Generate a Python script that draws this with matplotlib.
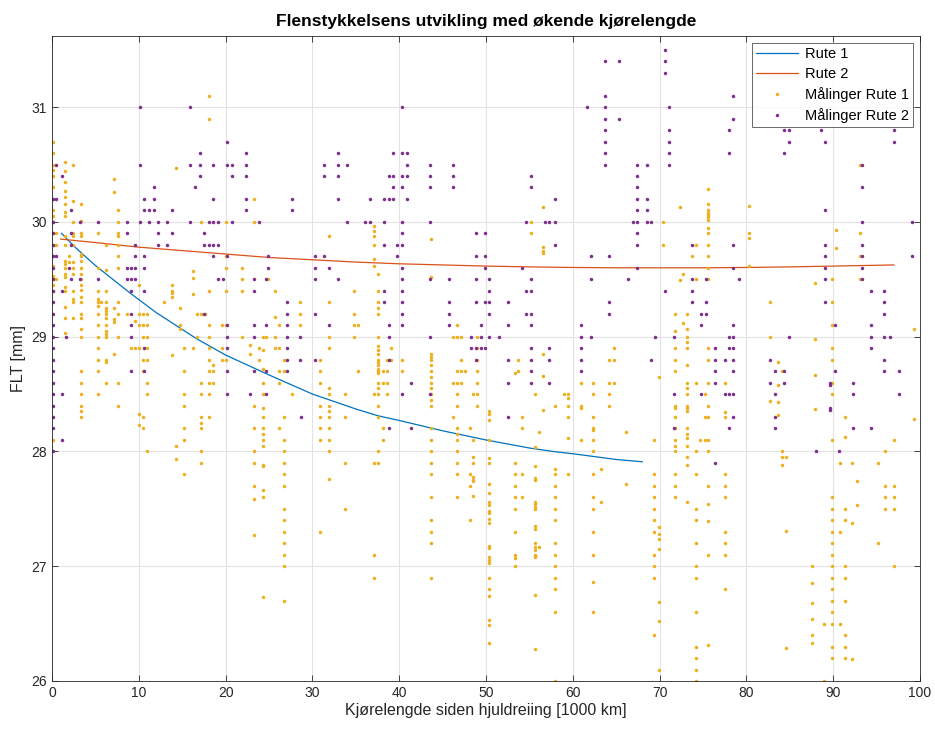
import numpy as np
import matplotlib
matplotlib.use("Agg")
import matplotlib.pyplot as plt

plt.rcParams['font.family'] = ['Liberation Sans', 'DejaVu Sans']

# tilpassede kurver
rute1_x = [1.1, 2.65, 5, 9, 12, 16.7, 20, 24.9, 30, 35, 37.6, 40, 45, 50, 55, 57.7, 60, 65, 68]
rute1_y = [29.90, 29.78, 29.62, 29.38, 29.21, 28.98, 28.84, 28.67, 28.50, 28.37, 28.31,
           28.27, 28.18, 28.10, 28.03, 28.00, 27.98, 27.93, 27.91]
rute2_x = [1, 5, 10, 15, 20, 25, 30, 35, 40, 45, 50, 55, 60, 65, 70, 75, 80, 85, 90, 97]
rute2_y = [29.85, 29.82, 29.78, 29.75, 29.72, 29.69, 29.67, 29.65, 29.635, 29.625, 29.615,
           29.608, 29.603, 29.60, 29.60, 29.60, 29.603, 29.608, 29.615, 29.625]

# målinger rute 1: (kjørelengde, [FLT-verdier])
maal_rute1 = [
    (0.1, [30.7, 30.6, 30.5, 30.45, 30.4, 30.3, 30.2, 30.1, 30.05, 30.0, 29.9, 29.8, 29.7, 29.62, 29.53, 29.45, 29.4, 28.1]),
    (0.5, [29.9, 29.8, 29.5]),
    (1.5, [30.52, 30.44, 30.35, 30.27, 30.22, 30.16, 30.09, 30.05, 29.88, 29.8, 29.66, 29.63, 29.6, 29.55, 29.52, 29.43, 29.4, 29.26, 29.16, 29.03]),
    (2.0, [29.7, 29.65]),
    (2.4, [30.5, 30.18, 30.0, 29.9, 29.88, 29.8, 29.65, 29.6, 29.55, 29.4, 29.33, 29.3, 29.16]),
    (3.4, [30.16, 30.01, 29.9, 29.88, 29.72, 29.7, 29.66, 29.6, 29.55, 29.5, 29.45, 29.41, 29.35, 29.3, 29.2, 29.16, 29.07, 29.0, 28.7, 28.6, 28.5, 28.4, 28.35, 28.3]),
    (5.3, [29.9, 29.6, 29.4, 29.33, 29.3, 29.27, 29.2, 29.1, 29.0, 28.9, 28.8, 28.7, 28.5]),
    (5.7, [29.3]),
    (6.2, [29.8, 29.58, 29.4, 29.3, 29.25, 29.22, 29.2, 29.16, 29.1, 29.05, 29.02, 29.0, 28.8, 28.78, 28.6]),
    (7.2, [30.37, 30.26, 29.25, 29.15, 29.13, 28.85]),
    (7.6, [30.1, 30.0, 29.9, 29.88, 29.8, 29.7, 29.6, 29.3, 29.2, 29.0, 28.6, 28.4]),
    (8.6, [29.2]),
    (9.1, [28.9]),
    (9.6, [29.14, 28.9]),
    (10.0, [29.45, 29.2, 29.1, 28.9, 28.33, 28.23]),
    (10.5, [29.2, 29.1, 29.0, 28.8, 28.7, 28.3, 28.2]),
    (11.0, [29.2, 29.1, 29.0, 28.9, 28.8, 28.6, 28.5, 28.0]),
    (12.9, [29.3]),
    (13.8, [29.45, 29.4, 29.38, 29.35, 28.84]),
    (14.3, [30.47, 28.05, 27.93]),
    (14.75, [29.25, 29.1, 29.07]),
    (15.25, [28.9, 28.7, 28.5, 28.4, 28.2, 28.1, 27.8]),
    (16.2, [29.57, 29.51, 29.37, 28.9]),
    (16.7, [29.2, 29.0]),
    (17.2, [30.0, 29.2, 28.6, 28.5, 28.3, 28.25, 28.2, 28.0, 27.9]),
    (17.6, [29.2]),
    (18.1, [31.1, 30.9, 29.4, 29.1, 29.0, 28.9, 28.8, 28.7, 28.6, 28.5, 28.3]),
    (18.6, [28.75, 28.7, 28.6]),
    (19.55, [29.1, 28.9, 28.8]),
    (20.0, [30.0, 29.7, 29.6, 29.4, 29.1, 28.8]),
    (21.9, [29.6, 29.5, 29.4, 29.0]),
    (22.8, [28.93, 28.85]),
    (23.3, [30.2, 30.0, 28.4, 28.2, 28.0, 27.9, 27.7, 27.59, 27.27]),
    (23.8, [28.9, 28.8]),
    (24.3, [29.0, 28.88, 28.72, 28.6, 28.5, 28.38, 28.3, 28.2, 28.15, 28.1, 28.05, 27.88, 27.87, 27.66, 27.6, 26.73]),
    (24.7, [29.0]),
    (24.9, [29.5]),
    (25.7, [29.4, 29.17, 29.0, 28.9]),
    (26.2, [29.1, 28.9, 28.7, 28.6, 28.2]),
    (26.7, [28.8, 28.7, 28.3, 28.1, 28.0, 27.9, 27.8, 27.7, 27.5, 27.4, 27.3, 27.2, 27.1, 27.0, 26.7]),
    (27.6, [28.5]),
    (28.6, [29.3, 29.2, 29.1]),
    (30.9, [28.8, 28.7, 28.6, 28.4, 28.3, 28.2, 28.1, 27.3]),
    (31.9, [29.88, 29.3, 29.0, 28.9, 28.55, 28.5, 28.4, 28.35, 28.3, 28.2, 28.1, 28.0, 27.76]),
    (33.8, [28.5, 28.3, 27.9, 27.5]),
    (34.8, [29.4, 29.2, 29.1, 29.0]),
    (35.2, [29.1, 28.7]),
    (37.1, [29.96, 29.92, 29.88, 29.8, 29.68, 29.62, 28.5, 27.9, 27.1, 26.9]),
    (37.6, [29.55, 29.4, 29.3, 29.25, 29.2, 29.0, 28.92, 28.88, 28.85, 28.8, 28.78, 28.75, 28.72, 28.7, 28.68, 28.6, 28.55, 28.5, 28.4, 28.3, 28.0, 27.9]),
    (38.1, [28.7, 28.6, 28.2, 28.1]),
    (38.6, [28.8, 28.7, 28.6, 28.5]),
    (39.0, [28.9, 28.8]),
    (40.35, [28.8, 28.7]),
    (43.7, [29.85, 29.52, 28.85, 28.82, 28.8, 28.75, 28.7, 28.65, 28.6, 28.55, 28.5, 28.45, 28.4, 28.2, 28.1, 28.0, 27.9, 27.8, 27.6, 27.4, 27.3, 27.2, 26.9]),
    (46.2, [29.0, 28.6, 28.3]),
    (46.65, [29.1, 29.0, 28.7, 28.6, 28.5, 28.4, 28.2, 28.15, 28.1, 28.0, 27.9, 27.8, 27.6]),
    (47.1, [29.0, 28.8, 28.7, 28.6]),
    (47.6, [28.7]),
    (48.1, [28.2, 27.8, 27.7, 27.4]),
    (48.5, [28.5, 28.1, 27.95, 27.9, 27.78, 27.75, 27.74, 27.61]),
    (49.0, [29.0, 28.9, 28.8, 28.7, 28.6, 28.5, 28.4]),
    (50.4, [28.35, 28.33, 28.27, 28.1, 27.94, 27.9, 27.72, 27.64, 27.56, 27.53, 27.48, 27.46, 27.41, 27.38, 27.18, 27.16, 27.08, 27.05, 27.03, 26.9, 26.8, 26.74, 26.53, 26.49, 26.33]),
    (53.3, [28.68, 27.9, 27.8, 27.7, 27.6, 27.5, 27.3, 27.1, 27.07, 27.0]),
    (53.7, [28.8, 28.7]),
    (54.2, [28.3, 28.2, 27.8, 27.6]),
    (55.2, [30.0, 29.9]),
    (55.65, [28.5, 28.04, 27.87, 27.77, 27.75, 27.56, 27.54, 27.52, 27.5, 27.35, 27.32, 27.2, 27.17, 27.14, 27.1, 27.09, 27.08, 26.75, 26.28]),
    (56.1, [28.17, 27.17]),
    (56.6, [30.13, 29.78, 29.75, 29.73, 28.85, 28.66, 28.36]),
    (58.0, [28.4, 27.85, 27.8, 27.7, 27.6, 27.5, 27.4, 27.2, 27.1, 27.0, 26.9, 26.8, 26.6, 26.0]),
    (58.95, [28.5]),
    (59.45, [28.5, 28.47, 28.4, 28.3, 28.12, 27.8]),
    (60.9, [28.6, 28.4, 28.38, 28.1]),
    (62.3, [28.6, 28.5, 28.3, 28.2, 28.19, 28.1, 28.0, 27.8, 27.6, 27.5, 27.3, 27.1, 26.86, 26.6]),
    (63.25, [27.85, 27.56]),
    (64.2, [28.8, 28.6, 28.5, 28.4]),
    (64.7, [28.9, 28.8, 28.6]),
    (66.1, [28.17, 27.72]),
    (69.4, [28.1, 27.8, 27.7, 27.6, 27.5, 27.4, 27.3, 27.1, 27.0, 26.9, 26.4]),
    (69.9, [28.65, 27.34, 27.28, 27.24, 27.15, 26.69, 26.52, 26.1]),
    (70.4, [30.0, 29.8]),
    (71.8, [29.2, 29.05, 28.9, 28.8, 28.7, 28.4, 28.38, 28.3, 28.2, 28.1, 28.05, 28.0, 27.8, 27.7, 27.6]),
    (72.3, [30.13, 29.49]),
    (72.7, [29.55, 29.12]),
    (73.2, [29.2, 29.07, 29.0, 28.95, 28.9, 28.75, 28.6, 28.55, 28.5, 28.4, 28.38, 28.35, 28.2, 28.15, 28.12, 28.05, 27.95, 27.88, 27.56]),
    (73.7, [29.7]),
    (74.2, [29.8, 29.5, 28.6, 28.0, 27.8, 27.5, 27.4, 27.2, 27.0, 26.9, 26.6, 26.3, 26.2, 26.1, 26.0]),
    (74.7, [28.1]),
    (75.2, [28.5, 28.3, 28.1]),
    (75.6, [30.29, 30.16, 30.1, 30.08, 30.06, 30.04, 30.02, 29.95, 29.9, 29.8, 29.7, 29.6, 29.5, 28.9, 28.8, 28.6, 28.4, 28.3, 28.1, 28.0, 27.7, 27.54, 27.39, 27.1, 26.31]),
    (77.5, [28.6, 28.34, 28.3, 27.8, 27.7, 27.6, 27.3, 27.2, 27.1, 26.8]),
    (80.3, [30.14, 29.9, 29.86, 29.62]),
    (82.7, [29.3, 29.0, 28.44]),
    (83.65, [28.78, 28.58, 28.43, 28.32]),
    (84.1, [28.7, 28.0, 27.95, 27.88]),
    (84.6, [27.95, 27.31, 26.29]),
    (87.5, [27.0, 26.85, 26.68, 26.54, 26.4, 26.33]),
    (87.9, [29.47, 28.98, 28.67, 28.37]),
    (88.9, [26.5, 26.0]),
    (89.85, [29.5, 29.3, 29.1, 28.9, 28.8, 28.6, 28.5, 28.1, 27.6, 27.5, 27.4, 27.3, 27.2, 27.1, 27.0, 26.9, 26.8, 26.7, 26.6, 26.5, 26.3, 26.2]),
    (90.35, [29.93, 29.77]),
    (90.8, [27.9, 27.3, 26.5]),
    (91.3, [28.3, 28.13, 27.5, 27.4, 27.0, 26.9, 26.7, 26.4, 26.3, 26.2]),
    (92.2, [27.9, 27.38, 26.19]),
    (92.7, [27.74, 27.53]),
    (93.1, [30.5, 29.9, 29.7, 29.5]),
    (95.1, [27.9, 27.2]),
    (96.0, [28.0, 27.7, 27.6, 27.5]),
    (96.95, [28.1, 27.7, 27.6, 27.5, 27.0]),
    (99.3, [29.07, 28.28]),
]

# målinger rute 2
maal_rute2 = [
    (0.1, [30.2, 30.0, 29.9, 29.8, 29.7, 29.6, 29.5, 29.4, 29.3, 29.2, 29.1, 29.0, 28.9, 28.8, 28.7, 28.6, 28.5, 28.4, 28.3, 28.2, 28.0]),
    (0.5, [30.5, 30.2, 29.7]),
    (1.1, [30.4, 29.4, 28.5, 28.1]),
    (1.65, [29.0]),
    (2.0, [29.6]),
    (2.2, [30.1, 29.9, 29.8, 29.5]),
    (3.2, [30.0, 29.5]),
    (5.3, [30.0, 29.5]),
    (8.6, [30.0, 29.9, 29.6, 29.5]),
    (9.1, [29.6, 29.5, 29.4, 29.2, 29.1, 29.0, 28.7]),
    (9.6, [29.8, 29.7, 29.6, 29.5]),
    (10.1, [31.0, 30.5, 30.0]),
    (10.6, [30.2, 30.1, 29.7, 29.6, 29.4, 28.9, 28.7]),
    (11.2, [30.1, 30.0]),
    (11.7, [30.3, 30.2, 30.1]),
    (12.25, [30.0, 29.9, 29.8]),
    (13.3, [30.0, 29.8]),
    (13.8, [30.1, 29.9]),
    (15.9, [31.0, 30.5, 30.0]),
    (16.5, [30.3]),
    (17.0, [30.6, 30.5, 30.4]),
    (17.5, [29.9, 29.8, 29.2]),
    (18.1, [30.0, 29.8]),
    (18.6, [30.5, 30.2, 30.0, 29.8, 29.7]),
    (19.1, [30.0, 29.8, 29.5]),
    (19.7, [29.5]),
    (20.2, [30.7, 30.5, 29.7, 29.1, 29.0, 28.9, 28.7, 28.5]),
    (20.7, [30.5, 30.4, 30.0]),
    (22.3, [30.6, 30.5, 30.4, 30.2, 30.1]),
    (22.8, [28.5]),
    (23.3, [29.5, 29.4, 29.1, 29.0, 28.7]),
    (23.9, [30.0]),
    (24.7, [29.5, 29.1, 28.7, 28.5]),
    (24.9, [29.7, 29.6]),
    (27.1, [29.3, 29.2, 29.1, 29.0, 28.9, 28.8, 28.7]),
    (27.6, [30.2, 30.1]),
    (28.6, [29.0, 28.8]),
    (28.7, [28.3]),
    (30.3, [29.7, 29.6, 29.5, 29.2, 28.8]),
    (31.35, [30.5, 30.4, 29.7]),
    (31.9, [29.6, 29.1]),
    (32.9, [30.6, 30.5, 30.4, 30.2, 29.5]),
    (34.0, [30.5, 30.0]),
    (36.1, [30.0]),
    (36.65, [30.2, 30.0]),
    (38.2, [30.2, 30.0, 29.8, 29.4, 29.3]),
    (38.8, [30.4, 30.2, 29.1, 29.0, 28.8, 28.2]),
    (39.3, [30.6, 30.4, 30.3, 30.2]),
    (39.8, [29.8, 29.7]),
    (40.35, [31.0, 30.6, 30.4, 30.3, 30.0, 29.9, 29.8, 29.6, 29.5, 29.4, 29.3, 29.2, 29.1, 28.5]),
    (40.9, [30.6, 30.5, 30.4, 30.2]),
    (41.4, [28.6, 28.2]),
    (43.5, [30.5, 30.4, 30.3, 30.0, 29.5, 29.0, 28.5]),
    (45.7, [29.5, 29.3, 29.2, 29.1]),
    (46.2, [30.5, 30.4, 30.3]),
    (48.3, [29.0, 28.9]),
    (48.8, [29.9, 29.7, 29.5, 29.3, 28.9, 28.8]),
    (49.4, [29.1, 29.0, 28.9]),
    (49.9, [29.9, 29.7, 29.6, 29.3, 28.9]),
    (50.4, [29.5, 29.4, 29.3, 29.2, 29.0]),
    (51.5, [29.0]),
    (52.5, [29.3, 29.1, 28.8, 28.6, 28.3]),
    (54.1, [29.6]),
    (54.6, [30.0, 29.4, 29.2]),
    (55.2, [30.4, 30.3, 29.5, 29.4, 29.2, 29.1, 28.9, 28.8, 28.7, 28.6]),
    (56.8, [30.0]),
    (57.3, [30.0, 28.9, 28.8, 28.6]),
    (57.9, [30.2, 30.0, 29.8]),
    (61.0, [29.1, 29.0, 28.9, 28.8, 28.7]),
    (61.6, [31.0]),
    (62.1, [29.7, 29.5, 29.0]),
    (63.7, [31.4, 31.1, 31.0, 30.9, 30.8, 30.7, 30.6, 30.5]),
    (64.2, [29.7, 29.3, 29.2]),
    (65.3, [31.4, 30.9]),
    (66.3, [29.5]),
    (66.9, [30.0]),
    (67.4, [30.5, 30.4, 30.3, 30.2, 30.1, 30.0, 29.9, 29.8, 29.6]),
    (68.5, [30.5, 30.2, 30.1, 30.0]),
    (69.0, [30.0, 28.8]),
    (69.5, [29.0]),
    (70.6, [31.5, 31.4, 31.3, 29.4]),
    (71.1, [31.0, 30.8, 30.7, 30.6, 30.5]),
    (71.6, [29.0, 28.5, 28.2]),
    (73.7, [29.8, 29.5, 29.4, 29.3]),
    (74.8, [29.2, 29.1, 28.5]),
    (75.3, [29.5, 29.3, 29.2]),
    (76.4, [28.9, 28.8, 28.7, 28.6, 27.9]),
    (77.5, [28.8, 28.5]),
    (78.0, [30.8, 30.6, 29.0, 28.9, 28.5, 28.2]),
    (78.5, [31.1, 30.9, 29.8, 29.6, 29.1, 29.0, 28.9, 28.8, 28.7, 28.5, 28.3]),
    (79.1, [29.5]),
    (82.7, [28.8, 28.6]),
    (83.3, [28.7, 28.5, 28.3, 28.2]),
    (84.35, [30.8, 30.6, 28.7, 28.6]),
    (84.9, [30.8, 30.7, 29.0]),
    (88.0, [28.0]),
    (88.6, [30.8]),
    (89.1, [30.7, 30.1, 29.8, 29.7, 29.6, 29.5, 29.3]),
    (89.6, [28.6, 28.58, 28.38, 28.36]),
    (90.2, [29.1, 28.7]),
    (90.7, [28.0]),
    (92.3, [28.6, 28.5, 28.2]),
    (93.3, [30.5, 30.3, 30.0, 29.8, 29.7, 29.6, 29.5]),
    (94.3, [29.4, 29.1, 29.0, 28.9, 28.2]),
    (95.9, [29.4, 29.3, 29.2, 29.0, 28.8, 28.7]),
    (96.5, [29.0]),
    (97.0, [30.8, 30.7]),
    (97.6, [28.7, 28.5]),
    (99.1, [30.0, 29.7]),
]


def flatten(cols):
    xs, ys = [], []
    for x, vals in cols:
        xs += [x] * len(vals)
        ys += vals
    return np.array(xs), np.array(ys)


m1x, m1y = flatten(maal_rute1)
m2x, m2y = flatten(maal_rute2)

fig = plt.figure(figsize=(9.35, 7.31), dpi=100)
ax = fig.add_axes([0.0556, 0.0684, 0.9284, 0.8824])

ax.plot(rute1_x, rute1_y, color='#0072BD', lw=0.9, label='Rute 1')
ax.plot(rute2_x, rute2_y, color='#D95319', lw=0.9, label='Rute 2')
ax.plot(m1x, m1y, '.', color='#EDB120', ms=5, mew=0, label='Målinger Rute 1')
ax.plot(m2x, m2y, '.', color='#7E2F8E', ms=5, mew=0, label='Målinger Rute 2')

ax.set_xlim(0, 100)
ax.set_ylim(26, 31.62)
ax.set_xticks(np.arange(0, 101, 10))
ax.set_yticks(np.arange(26, 32, 1))
ax.grid(True, color='#e3e3e3', lw=0.8)
ax.set_axisbelow(True)
ax.tick_params(direction='in', top=True, right=True, length=4, labelsize=10,
               colors='#262626', width=0.6)
for s in ax.spines.values():
    s.set_color('#262626')
    s.set_linewidth(0.6)

ax.set_title('Flenstykkelsens utvikling med økende kjørelengde', fontsize=12.5,
             fontweight='bold', pad=7)
ax.set_xlabel('Kjørelengde siden hjuldreiing [1000 km]', fontsize=11.5, color='#262626', labelpad=2)
ax.set_ylabel('FLT [mm]', fontsize=11.5, color='#262626', labelpad=4)

leg = ax.legend(loc='upper right', fontsize=10.5, frameon=True, fancybox=False,
                edgecolor='#262626', borderpad=0.25, handlelength=2.9, labelspacing=0.42,
                borderaxespad=0.5, handletextpad=0.5)
leg.get_frame().set_linewidth(0.6)

fig.savefig('out.png', dpi=100)
